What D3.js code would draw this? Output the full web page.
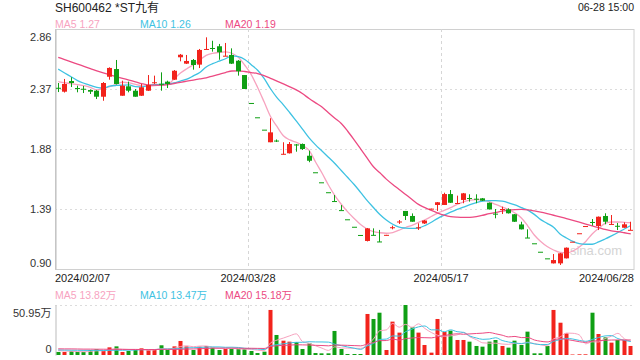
<!DOCTYPE html>
<html>
<head>
<meta charset="utf-8">
<script src="https://cdn.jsdelivr.net/npm/d3@7"></script>
<style>
  html, body { margin: 0; padding: 0; background: #fff; }
  svg { display: block; font-family: Arial, "Liberation Sans", "Noto Sans CJK SC", sans-serif; }
</style>
</head>
<body>
<svg id="chart" width="640" height="360"></svg>
<script>
// 日K: SH600462 *ST九有, 2024/02/07 - 2024/06/28
const title = "SH600462 *ST九有";
const timeLabel = "06-28 15:00";

const open = [2.380, 2.348, 2.435, 2.378, 2.372, 2.362, 2.356, 2.307, 2.470, 2.533,
  2.315, 2.392, 2.356, 2.315, 2.356, 2.419, 2.413, 2.430, 2.446, 2.629,
  2.577, 2.607, 2.569, 2.694, 2.705, 2.719, 2.640, 2.648, 2.601, 2.484,
  2.256, 2.139, 2.038, 1.935, 1.949, 1.838, 1.845, 1.917, 1.921, 1.825,
  1.690, 1.608, 1.527, 1.455, 1.381, 1.306, 1.245, 1.178, 1.129, 1.179,
  1.125, 1.175, 1.237, 1.284, 1.374, 1.333, 1.235, 1.272, 1.389, 1.423,
  1.423, 1.512, 1.435, 1.464, 1.480, 1.474, 1.477, 1.441, 1.352, 1.385,
  1.387, 1.347, 1.264, 1.157, 1.110, 1.041, 0.987, 0.946, 0.946, 0.987,
  1.123, 1.192, 1.251, 1.284, 1.251, 1.333, 1.264, 1.253, 1.237, 1.217];
const close = [2.373, 2.411, 2.419, 2.373, 2.368, 2.348, 2.307, 2.419, 2.542, 2.411,
  2.397, 2.356, 2.307, 2.384, 2.403, 2.425, 2.408, 2.411, 2.519, 2.650,
  2.599, 2.566, 2.689, 2.697, 2.699, 2.670, 2.642, 2.577, 2.515, 2.370,
  2.256, 2.139, 2.038, 2.016, 1.944, 1.841, 1.921, 1.913, 1.880, 1.784,
  1.690, 1.608, 1.527, 1.455, 1.381, 1.306, 1.245, 1.178, 1.232, 1.175,
  1.121, 1.179, 1.241, 1.288, 1.333, 1.286, 1.240, 1.296, 1.393, 1.445,
  1.512, 1.441, 1.439, 1.518, 1.475, 1.469, 1.458, 1.387, 1.347, 1.390,
  1.355, 1.286, 1.224, 1.153, 1.110, 1.041, 0.987, 0.973, 1.028, 1.074,
  1.123, 1.192, 1.251, 1.279, 1.327, 1.286, 1.268, 1.248, 1.265, 1.220];
const high = [2.419, 2.452, 2.466, 2.397, 2.395, 2.366, 2.362, 2.427, 2.547, 2.607,
  2.438, 2.430, 2.370, 2.411, 2.484, 2.479, 2.506, 2.438, 2.525, 2.656,
  2.648, 2.615, 2.697, 2.792, 2.764, 2.738, 2.746, 2.702, 2.607, 2.484,
  2.256, 2.139, 2.038, 2.131, 1.958, 1.935, 1.937, 1.921, 1.925, 1.866,
  1.690, 1.608, 1.527, 1.504, 1.422, 1.306, 1.245, 1.178, 1.235, 1.232,
  1.219, 1.179, 1.254, 1.300, 1.374, 1.354, 1.273, 1.300, 1.393, 1.447,
  1.523, 1.545, 1.499, 1.521, 1.510, 1.510, 1.480, 1.443, 1.390, 1.409,
  1.396, 1.349, 1.286, 1.224, 1.110, 1.041, 0.987, 1.022, 1.031, 1.076,
  1.123, 1.192, 1.251, 1.308, 1.329, 1.355, 1.341, 1.276, 1.281, 1.286];
const low = [2.345, 2.341, 2.386, 2.343, 2.337, 2.329, 2.288, 2.274, 2.446, 2.407,
  2.315, 2.343, 2.307, 2.313, 2.354, 2.411, 2.356, 2.378, 2.444, 2.596,
  2.574, 2.528, 2.541, 2.693, 2.675, 2.609, 2.640, 2.574, 2.479, 2.370,
  2.256, 2.139, 2.038, 1.935, 1.937, 1.835, 1.843, 1.858, 1.872, 1.772,
  1.690, 1.608, 1.527, 1.455, 1.381, 1.306, 1.245, 1.178, 1.125, 1.174,
  1.121, 1.175, 1.224, 1.268, 1.300, 1.286, 1.219, 1.268, 1.389, 1.374,
  1.423, 1.439, 1.435, 1.437, 1.450, 1.437, 1.455, 1.386, 1.314, 1.349,
  1.353, 1.284, 1.223, 1.153, 1.110, 1.041, 0.987, 0.945, 0.933, 0.986,
  1.123, 1.192, 1.251, 1.254, 1.218, 1.265, 1.264, 1.218, 1.237, 1.217];

// moving averages
const ma5 = [2.430, 2.421, 2.414, 2.406, 2.397, 2.383, 2.363, 2.375, 2.390, 2.408,
  2.425, 2.420, 2.408, 2.396, 2.394, 2.398, 2.400, 2.405, 2.452, 2.500,
  2.536, 2.568, 2.607, 2.644, 2.661, 2.669, 2.674, 2.662, 2.629, 2.564,
  2.488, 2.382, 2.265, 2.145, 2.064, 1.988, 1.954, 1.935, 1.909, 1.868,
  1.774, 1.684, 1.586, 1.500, 1.429, 1.366, 1.312, 1.263, 1.227, 1.205,
  1.196, 1.192, 1.198, 1.218, 1.239, 1.257, 1.280, 1.302, 1.329, 1.357,
  1.378, 1.401, 1.428, 1.449, 1.463, 1.466, 1.463, 1.450, 1.427, 1.406,
  1.386, 1.357, 1.317, 1.251, 1.178, 1.125, 1.084, 1.055, 1.035, 1.031,
  1.047, 1.080, 1.125, 1.186, 1.231, 1.272, 1.284, 1.284, 1.281, 1.278];
const ma10 = [2.532, 2.501, 2.470, 2.439, 2.417, 2.400, 2.383, 2.378, 2.393, 2.399,
  2.401, 2.403, 2.390, 2.388, 2.398, 2.405, 2.408, 2.410, 2.419, 2.435,
  2.450, 2.477, 2.505, 2.550, 2.577, 2.597, 2.617, 2.640, 2.634, 2.611,
  2.568, 2.523, 2.457, 2.372, 2.300, 2.241, 2.176, 2.109, 2.041, 1.971,
  1.914, 1.864, 1.813, 1.762, 1.704, 1.647, 1.590, 1.526, 1.460, 1.402,
  1.345, 1.300, 1.265, 1.241, 1.234, 1.231, 1.236, 1.255, 1.282, 1.314,
  1.340, 1.364, 1.387, 1.406, 1.425, 1.442, 1.454, 1.459, 1.459, 1.454,
  1.441, 1.423, 1.401, 1.381, 1.346, 1.303, 1.273, 1.241, 1.186, 1.153,
  1.125, 1.107, 1.102, 1.102, 1.121, 1.145, 1.171, 1.198, 1.227, 1.255];
const ma20 = [2.629, 2.610, 2.591, 2.573, 2.555, 2.537, 2.518, 2.501, 2.486, 2.471,
  2.457, 2.443, 2.429, 2.414, 2.403, 2.401, 2.402, 2.406, 2.415, 2.425,
  2.434, 2.443, 2.452, 2.461, 2.476, 2.490, 2.504, 2.517, 2.518, 2.513,
  2.504, 2.496, 2.479, 2.457, 2.435, 2.412, 2.388, 2.363, 2.331, 2.292,
  2.257, 2.223, 2.176, 2.131, 2.088, 2.025, 1.955, 1.882, 1.808, 1.735,
  1.686, 1.634, 1.590, 1.550, 1.508, 1.468, 1.428, 1.401, 1.378, 1.357,
  1.340, 1.328, 1.323, 1.321, 1.322, 1.328, 1.339, 1.352, 1.362, 1.372,
  1.380, 1.385, 1.387, 1.383, 1.374, 1.364, 1.352, 1.339, 1.326, 1.312,
  1.298, 1.283, 1.267, 1.252, 1.238, 1.223, 1.212, 1.205, 1.196, 1.187];

// volume, 万股
const volume = [3.1, 3.1, 4.1, 3.1, 3.1, 5.1, 5.8, 4.1, 7.8, 8.8,
  3.1, 4.1, 5.1, 6.8, 5.1, 5.1, 9.9, 5.1, 8.8, 14.3,
  8.8, 5.1, 8.5, 9.2, 7.5, 5.1, 6.1, 6.1, 6.1, 6.1,
  4.1, 2.0, 3.4, 45.9, 20.4, 14.6, 13.6, 13.2, 6.1, 11.9,
  2.0, 1.7, 1.7, 24.5, 6.1, 1.0, 1.0, 1.0, 41.8, 36.7,
  43.1, 5.1, 34.0, 22.8, 50.95, 28.2, 22.8, 10.2, 2.4, 36.7,
  23.4, 24.8, 15.3, 15.3, 13.6, 9.2, 8.5, 13.6, 15.3, 9.2,
  7.5, 14.6, 10.2, 23.8, 1.7, 1.7, 9.2, 45.9, 32.9, 22.1,
  0.5, 0.7, 0.7, 43.1, 21.4, 18.0, 12.6, 15.3, 15.3, 9.2];
const volMa5 = [4.5, 4.0, 3.8, 3.5, 3.3, 3.7, 4.24, 4.24, 5.18, 6.32,
  5.92, 5.58, 5.78, 5.58, 4.84, 5.24, 6.4, 6.4, 6.8, 8.64,
  9.38, 8.42, 9.1, 9.18, 7.82, 7.08, 7.28, 6.8, 6.18, 5.9,
  5.7, 4.88, 4.34, 12.3, 15.16, 17.26, 19.58, 21.54, 13.58, 11.88,
  9.36, 6.98, 4.68, 8.36, 7.2, 7.0, 6.86, 6.72, 10.18, 16.3,
  24.72, 25.54, 32.14, 28.34, 31.19, 28.21, 31.75, 26.99, 22.91, 20.06,
  19.1, 19.5, 20.52, 23.1, 18.48, 15.64, 12.38, 12.04, 12.04, 11.16,
  10.82, 12.04, 11.36, 13.06, 11.56, 10.4, 9.32, 16.46, 18.28, 22.36,
  22.12, 20.42, 11.38, 13.42, 13.28, 16.78, 19.16, 22.08, 16.52, 14.08];
const volMa10 = [5.2, 5.0, 4.9, 4.8, 4.7, 4.7, 4.7, 4.6, 4.7, 4.81,
  4.81, 4.91, 5.01, 5.38, 5.58, 5.58, 5.99, 6.09, 6.19, 6.74,
  7.31, 7.41, 7.75, 7.99, 8.23, 8.23, 7.85, 7.95, 7.68, 6.86,
  6.39, 6.08, 5.57, 9.24, 10.53, 11.48, 12.23, 12.94, 12.94, 13.52,
  13.31, 13.28, 13.11, 10.97, 9.54, 8.18, 6.92, 5.7, 9.27, 11.75,
  15.86, 16.2, 19.43, 19.26, 23.75, 26.47, 28.65, 29.57, 25.63, 25.63,
  23.66, 25.63, 23.76, 23.0, 19.27, 17.37, 15.94, 16.28, 17.57, 14.82,
  13.23, 12.21, 11.7, 12.55, 11.36, 10.61, 10.68, 13.91, 15.67, 16.96,
  16.26, 14.87, 13.92, 15.85, 17.82, 19.45, 19.79, 16.73, 14.97, 13.68];
const volMa20 = [6.3, 6.2, 6.2, 6.1, 6.0, 6.0, 5.9, 5.9, 5.8, 5.8,
  5.7, 5.7, 5.6, 5.6, 5.6, 5.6, 5.7, 5.7, 5.7, 5.78,
  6.06, 6.16, 6.38, 6.69, 6.91, 6.91, 6.92, 7.02, 6.94, 6.8,
  6.85, 6.75, 6.66, 8.62, 9.38, 9.86, 10.04, 10.45, 10.31, 10.19,
  9.85, 9.68, 9.34, 10.11, 10.04, 9.83, 9.58, 9.32, 11.11, 12.64,
  14.59, 14.74, 16.27, 15.12, 16.64, 17.32, 17.78, 17.63, 17.45, 18.69,
  19.76, 20.91, 21.59, 21.13, 21.51, 21.92, 22.29, 22.92, 21.6, 20.22,
  18.44, 18.92, 17.73, 17.78, 15.32, 13.99, 13.31, 15.1, 16.62, 15.89,
  14.75, 13.54, 12.81, 14.2, 14.59, 15.03, 15.24, 15.32, 15.32, 15.32];

const priceTicks = [2.86, 2.37, 1.88, 1.39, 0.90];
const volMax = 50.95;
const dateTicks = ["2024/02/07", "2024/03/28", "2024/05/17", "2024/06/28"];
const dateTickPos = [0, 1 / 3, 2 / 3, 1];
const priceLegend = [["MA5", "1.27"], ["MA10", "1.26"], ["MA20", "1.19"]];
const volLegend = [["MA5", "13.82万"], ["MA10", "13.47万"], ["MA20", "15.18万"]];

const RED = "#f2231c";
const GREEN = "#0f9f14";
const maColors = ["#f7a3bf", "#3ec2e2", "#ec4a82"];

const svg = d3.select("#chart");
const left = 55, right = 634;
const pTop = 29, pBot = 269;
const vTop = 305, vBot = 355;
const n = close.length;

const x = d3.scaleBand().domain(d3.range(n)).range([left, right]);
const cx = (i) => x(i) + x.bandwidth() / 2;
const xf = d3.scaleLinear().domain([0, 1]).range([left, right]);
const y = d3.scaleLinear().domain([0.90, 2.86]).range([pBot, pTop]);
const yv = d3.scaleLinear().domain([0, volMax]).range([vBot, vTop]);

const isUp = (i) => close[i] > open[i] || (close[i] === open[i] && (i === 0 || close[i] >= close[i - 1]));

// header
svg.append("text").attr("x", left).attr("y", 12).attr("font-size", 12).attr("fill", "#222").text(title);
svg.append("text").attr("x", right).attr("y", 10.5).attr("text-anchor", "end")
  .attr("font-size", 10.5).attr("fill", "#222").text(timeLabel);

const legend = (items, yPos) => {
  const xs = [left, 140, 225];
  items.forEach((d, k) => {
    svg.append("text").attr("x", xs[k]).attr("y", yPos).attr("font-size", 10.5)
      .attr("fill", maColors[k]).text(`${d[0]} ${d[1]}`);
  });
};
legend(priceLegend, 27.5);
legend(volLegend, 299);

// price panel frame + grid
svg.append("rect").attr("x", left + 0.5).attr("y", pTop + 0.5)
  .attr("width", right - left - 0.5).attr("height", pBot - pTop)
  .attr("fill", "none").attr("stroke", "#d0d0d0");

svg.append("g").selectAll("line").data(priceTicks.slice(1, -1)).join("line")
  .attr("x1", left).attr("x2", right)
  .attr("y1", (d) => Math.round(y(d)) + 0.5).attr("y2", (d) => Math.round(y(d)) + 0.5)
  .attr("stroke", "#dcdcdc").attr("stroke-dasharray", "2,3");

svg.append("g").selectAll("line").data(dateTickPos.slice(1, -1)).join("line")
  .attr("x1", (d) => Math.round(xf(d)) + 0.5).attr("x2", (d) => Math.round(xf(d)) + 0.5)
  .attr("y1", pTop).attr("y2", pBot)
  .attr("stroke", "#d6d6d6").attr("stroke-dasharray", "3,3");

// price axis
const yAxis = svg.append("g").attr("transform", `translate(${left + 0.5},0)`)
  .call(d3.axisLeft(y).tickValues(priceTicks).tickSize(0).tickPadding(4).tickFormat(d3.format(".2f")));
yAxis.select(".domain").attr("stroke", "#bbb");
yAxis.selectAll(".tick text").attr("font-size", 11).attr("fill", "#333")
  .attr("font-family", "Arial, 'Liberation Sans', sans-serif")
  .attr("dy", (d, k) => (k === 0 ? "1.0em" : k === priceTicks.length - 1 ? "-0.25em" : "0.36em"));

// watermark
svg.append("text").attr("x", 596).attr("y", 255).attr("text-anchor", "middle")
  .attr("font-size", 13).attr("fill", "#d4d4d4").text("sina.com");

// MA lines (price)
[ma5, ma10, ma20].forEach((arr, k) => {
  svg.append("path").datum(arr)
    .attr("fill", "none").attr("stroke", maColors[k]).attr("stroke-width", 1.3)
    .attr("d", d3.line().x((d, i) => cx(i)).y((d) => y(d)).curve(d3.curveMonotoneX));
});

// candles
const candles = svg.append("g").selectAll("g").data(d3.range(n)).join("g");
candles.append("line")
  .attr("x1", (i) => Math.floor(cx(i)) + 0.5).attr("x2", (i) => Math.floor(cx(i)) + 0.5)
  .attr("y1", (i) => y(high[i])).attr("y2", (i) => y(low[i]))
  .attr("stroke", (i) => (isUp(i) ? RED : GREEN)).attr("stroke-width", 1);
candles.append("rect")
  .attr("x", (i) => Math.floor(cx(i)) - 2)
  .attr("y", (i) => y(Math.max(open[i], close[i])))
  .attr("width", 5)
  .attr("height", (i) => Math.max(1, Math.abs(y(open[i]) - y(close[i]))))
  .attr("fill", (i) => (isUp(i) ? RED : GREEN));

// date labels
svg.append("g").selectAll("text").data(dateTicks).join("text")
  .attr("x", (d, k) => xf(dateTickPos[k]))
  .attr("y", 282)
  .attr("text-anchor", (d, k) => (k === 0 ? "start" : k === dateTicks.length - 1 ? "end" : "middle"))
  .attr("font-size", 11).attr("fill", "#222").text((d) => d);

// volume panel
svg.append("line").attr("x1", left).attr("x2", right).attr("y1", vTop + 0.5).attr("y2", vTop + 0.5)
  .attr("stroke", "#dcdcdc").attr("stroke-dasharray", "2,3");
svg.append("g").selectAll("line").data(dateTickPos.slice(1, -1)).join("line")
  .attr("x1", (d) => Math.round(xf(d)) + 0.5).attr("x2", (d) => Math.round(xf(d)) + 0.5)
  .attr("y1", vTop).attr("y2", vBot)
  .attr("stroke", "#d6d6d6").attr("stroke-dasharray", "3,3");

const vAxis = svg.append("g").attr("transform", `translate(${left + 0.5},0)`)
  .call(d3.axisLeft(yv).tickValues([volMax, 0]).tickSize(0).tickPadding(4)
    .tickFormat((d) => (d === 0 ? "0" : `${d}万`)));
vAxis.select(".domain").attr("stroke", "#bbb");
vAxis.selectAll(".tick text").attr("font-size", 11).attr("fill", "#333")
  .attr("font-family", "Arial, 'Liberation Sans', 'Noto Sans CJK SC', sans-serif")
  .attr("dy", (d) => (d === 0 ? "-0.25em" : "1.0em"));

svg.append("g").selectAll("rect").data(d3.range(n)).join("rect")
  .attr("x", (i) => Math.floor(cx(i)) - 1.5)
  .attr("y", (i) => yv(volume[i]))
  .attr("width", 4)
  .attr("height", (i) => vBot - yv(volume[i]))
  .attr("fill", (i) => (isUp(i) ? RED : GREEN));

[volMa5, volMa10, volMa20].forEach((arr, k) => {
  svg.append("path").datum(arr)
    .attr("fill", "none").attr("stroke", maColors[k]).attr("stroke-width", 1)
    .attr("d", d3.line().x((d, i) => cx(i)).y((d) => yv(d)).curve(d3.curveMonotoneX));
});
</script>
</body>
</html>
